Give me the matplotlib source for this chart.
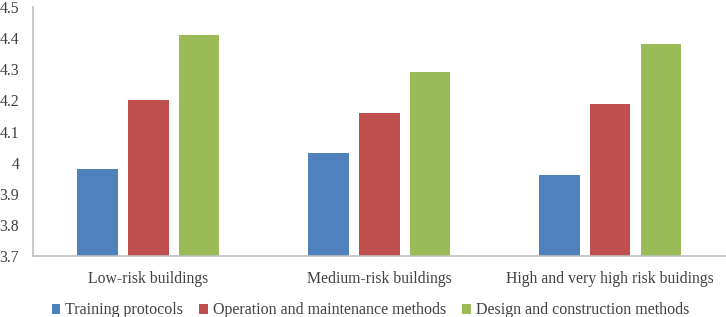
import matplotlib.pyplot as plt
import numpy as np

plt.rcParams['font.family'] = ['Liberation Serif', 'DejaVu Serif']

# data
categories = ['Low-risk buildings', 'Medium-risk buildings', 'High and very high risk buidings']
series_names = ['Training protocols', 'Operation and maintenance methods', 'Design and construction methods']
training = [3.98, 4.03, 3.96]
operation = [4.20, 4.16, 4.19]
design = [4.41, 4.29, 4.38]
colors = ['#4F81BD', '#C0504D', '#9BBB59']

fig = plt.figure(figsize=(7.26, 3.17), dpi=100)
ax = fig.add_axes([0.0455, 0.192, 0.954, 0.786])

x = np.arange(len(categories))
width = 0.175
step = 0.22
for i, (vals, name) in enumerate(zip([training, operation, design], series_names)):
    ax.bar(x + (i - 1) * step, np.array(vals) - 3.7, width, bottom=3.7,
           color=colors[i], label=name)

ax.set_xlim(-0.5, 2.5)
ax.set_ylim(3.7, 4.5)
ax.set_yticks(np.arange(3.7, 4.51, 0.1))
ax.set_yticklabels(['3.7', '3.8', '3.9', '4', '4.1', '4.2', '4.3', '4.4', '4.5'])
ax.set_xticks(x)
ax.set_xticklabels(categories)
ax.tick_params(length=0, labelsize=11.3, colors='#404040')
ax.tick_params(axis='x', pad=11)
ax.tick_params(axis='y', pad=10)

for s in ['top', 'right']:
    ax.spines[s].set_visible(False)
for s in ['left', 'bottom']:
    ax.spines[s].set_color('#bfbfbf')
    ax.spines[s].set_linewidth(1.2)

leg = fig.legend(loc='lower center', bbox_to_anchor=(0.51, -0.05), ncol=3, frameon=False,
                 fontsize=11.5, handlelength=0.55, handleheight=0.55, handletextpad=0.3,
                 columnspacing=1.0)
for t in leg.get_texts():
    t.set_color('#404040')

fig.savefig('out.png', dpi=100)
